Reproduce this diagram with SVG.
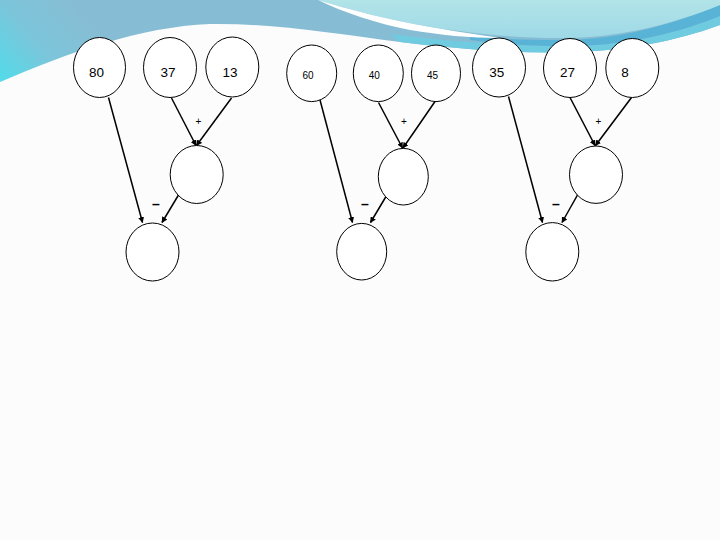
<svg xmlns="http://www.w3.org/2000/svg" width="720" height="540" viewBox="0 0 720 540">
  <defs>
    <linearGradient id="gLeft" x1="0" y1="80" x2="80" y2="10" gradientUnits="userSpaceOnUse">
      <stop offset="0" stop-color="#52dbe9"/>
      <stop offset="0.5" stop-color="#7cc5da"/>
      <stop offset="1" stop-color="#87bdd4"/>
    </linearGradient>
    <linearGradient id="gAqua" x1="0" y1="0" x2="0" y2="40" gradientUnits="userSpaceOnUse">
      <stop offset="0" stop-color="#b2e4e8"/>
      <stop offset="1" stop-color="#9dd8e6"/>
    </linearGradient>
    <marker id="ah" viewBox="0 0 10 10" refX="9" refY="5" markerWidth="6" markerHeight="6" orient="auto" markerUnits="userSpaceOnUse">
      <path d="M0,0 L10,5 L0,10 Z" fill="#000"/>
    </marker>
    <style>
      .node ellipse { fill: #ffffff; stroke: #000000; stroke-width: 1; }
      .lbl { font-family: "Liberation Sans", Arial, sans-serif; font-size: 13.5px; fill: #000; text-anchor: middle; }
      .sm { font-size: 10px; }
      .op { font-family: "Liberation Sans", Arial, sans-serif; font-size: 10px; fill: #000; text-anchor: middle; }
      .mn { font-family: "Liberation Sans", Arial, sans-serif; font-size: 14px; font-weight: bold; fill: #000; text-anchor: middle; }
      .edge { stroke: #000; stroke-width: 1.5; fill: none; marker-end: url(#ah); }
    </style>
  </defs>

  <g id="background">
    <rect x="0" y="0" width="720" height="540" fill="#fcfcfc"/>
    <path d="M0,0 H720 V25 C690,36 640,50 575,52 C510,54 450,48 400,42 C330,33 270,23 210,24 C140,27 70,52 0,82 Z" fill="url(#gLeft)"/>
    <path d="M390,34 C450,42 510,46 565,46 C620,46 670,36 720,16 V25 C690,36 640,50 575,52 C510,54 450,48 400,42 Z" fill="#6fcbdf"/>
    <path d="M470,36 C505,40 535,40 560,40 C620,40 670,25 720,5 V16 C670,36 620,46 565,46 C530,46 500,44 470,40 Z" fill="#58b3d6"/>
    <path d="M318,0 C350,10 390,20 430,27 C470,33 510,38 560,38 C620,38 670,25 720,5 V0 Z" fill="url(#gAqua)"/>
    <path d="M318,0 C350,10 390,20 430,27 C460,32 480,35 500,38 C470,38 440,35 410,30 C375,23 345,13 318,0 Z" fill="#ffffff"/>
  </g>

  <g id="connectors">
    <line class="edge" x1="108.5" y1="97.5" x2="142.5" y2="222.5"/>
    <line class="edge" x1="171.5" y1="98" x2="196" y2="145.5"/>
    <line class="edge" x1="231.5" y1="98" x2="196.5" y2="145.5"/>
    <line class="edge" x1="178.5" y1="195" x2="162" y2="222.5"/>

    <line class="edge" x1="320" y1="100" x2="352.5" y2="222.5"/>
    <line class="edge" x1="378.5" y1="102.5" x2="402.5" y2="148"/>
    <line class="edge" x1="435" y1="101.5" x2="403" y2="148"/>
    <line class="edge" x1="386" y1="196.5" x2="370.5" y2="222.5"/>

    <line class="edge" x1="508.5" y1="96.5" x2="542.5" y2="222.5"/>
    <line class="edge" x1="570" y1="97.5" x2="595" y2="145.5"/>
    <line class="edge" x1="631.5" y1="97.5" x2="595.5" y2="145.5"/>
    <line class="edge" x1="577.5" y1="195" x2="562" y2="222.5"/>
  </g>

  <g id="ops">
    <text class="op" x="198.5" y="124.5">+</text>
    <text class="mn" x="156" y="209">–</text>
    <text class="op" x="404" y="124.5">+</text>
    <text class="mn" x="365" y="209">–</text>
    <text class="op" x="598.5" y="124.5">+</text>
    <text class="mn" x="556" y="208.5">–</text>
  </g>

  <g id="n80" class="node"><ellipse cx="99.5" cy="67.5" rx="26" ry="30"/><text class="lbl" x="96.5" y="77">80</text></g>
  <g id="n37" class="node"><ellipse cx="170" cy="67.5" rx="26.5" ry="30"/><text class="lbl" x="168" y="77">37</text></g>
  <g id="n13" class="node"><ellipse cx="232.3" cy="67" rx="26.5" ry="30"/><text class="lbl" x="230" y="77">13</text></g>
  <g id="m1" class="node"><ellipse cx="196.7" cy="174.5" rx="26.5" ry="29"/></g>
  <g id="r1" class="node"><ellipse cx="152.5" cy="252" rx="26.5" ry="29"/></g>

  <g id="n60" class="node"><ellipse cx="311.7" cy="73.3" rx="25" ry="28.3"/><text class="lbl sm" x="308" y="78.5">60</text></g>
  <g id="n40" class="node"><ellipse cx="378.3" cy="73.3" rx="25" ry="28.3"/><text class="lbl sm" x="374.3" y="78.5">40</text></g>
  <g id="n45" class="node"><ellipse cx="436" cy="73.3" rx="24.5" ry="28.3"/><text class="lbl sm" x="432.5" y="78.5">45</text></g>
  <g id="m2" class="node"><ellipse cx="403.3" cy="176.7" rx="25" ry="28.3"/></g>
  <g id="r2" class="node"><ellipse cx="361.7" cy="251.7" rx="25" ry="28.3"/></g>

  <g id="n35" class="node"><ellipse cx="499" cy="67.5" rx="26.5" ry="29.5"/><text class="lbl" x="496.8" y="77">35</text></g>
  <g id="n27" class="node"><ellipse cx="570" cy="68" rx="26.5" ry="29.5"/><text class="lbl" x="567.5" y="77">27</text></g>
  <g id="n8" class="node"><ellipse cx="632.3" cy="68" rx="26.5" ry="29.5"/><text class="lbl" x="625" y="77">8</text></g>
  <g id="m3" class="node"><ellipse cx="596" cy="174.7" rx="26.5" ry="28.7"/></g>
  <g id="r3" class="node"><ellipse cx="552.3" cy="251.8" rx="26.5" ry="29.2"/></g>
</svg>
